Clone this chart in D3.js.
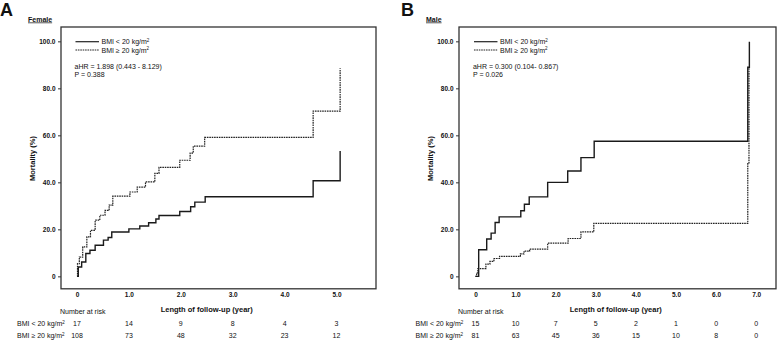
<!DOCTYPE html>
<html>
<head>
<meta charset="utf-8">
<script src="https://cdn.jsdelivr.net/npm/d3@7"></script>
<style>
	body { margin: 0; background: #fff; }
	text { font-family: "Liberation Sans", Arial, sans-serif; fill: #111; }
</style>
</head>
<body>
<div id="chart"></div>
<script>
// step curves: [time (year), cumulative mortality (%)]
const femaleLow = [[0, 0], [0.025, 4], [0.09, 6.1], [0.17, 9.7], [0.25, 11.1], [0.35, 13.2], [0.51, 15.4], [0.6, 16.5], [0.67, 18.9], [1.0, 20.2], [1.21, 21.4], [1.38, 22.8], [1.52, 24.4], [1.58, 25.9], [1.98, 27.6], [2.19, 29.6], [2.27, 31.6], [2.47, 33.9], [4.55, 40.7], [5.07, 53.3]];
const femaleHigh = [[0, 0], [0.01, 5.4], [0.045, 8.2], [0.11, 12.5], [0.19, 16.8], [0.26, 19.6], [0.35, 23.9], [0.44, 26], [0.54, 28.1], [0.62, 30.3], [0.69, 34.1], [1.02, 35.9], [1.16, 38], [1.32, 40.2], [1.5, 43.8], [1.58, 46.4], [1.98, 49.4], [2.18, 52.4], [2.24, 55.4], [2.46, 59.1], [4.55, 70.3], [5.07, 88.5]];
const maleLow = [[0, 0], [0.08, 11.3], [0.28, 15.9], [0.39, 18.4], [0.49, 22.9], [0.59, 25.3], [1.13, 27.9], [1.22, 30.7], [1.34, 33.8], [1.8, 40], [2.3, 44.8], [2.63, 50.5], [2.96, 57.5], [6.79, 89], [6.83, 99.8]];
const maleHigh = [[0, 0], [0.03, 1.5], [0.06, 3.3], [0.26, 5.2], [0.36, 6.4], [0.46, 7.6], [0.6, 8.5], [1.12, 9.6], [1.21, 10.7], [1.35, 11.6], [1.8, 14.1], [2.31, 16.1], [2.63, 18.9], [2.95, 22.5], [6.79, 48], [6.82, 89]];

const femaleXTicks = [0, 1, 2, 3, 4, 5];
const maleXTicks = [0, 1, 2, 3, 4, 5, 6, 7];
const yTicks = [0, 20, 40, 60, 80, 100];

const femaleRiskLow = [17, 14, 9, 8, 4, 3];
const femaleRiskHigh = [108, 73, 48, 32, 23, 12];
const maleRiskLow = [15, 10, 7, 5, 2, 1, 0, 0];
const maleRiskHigh = [81, 63, 45, 36, 15, 10, 8, 0];

const groupLabels = ["BMI < 20 kg/m", "BMI \u2265 20 kg/m"];
const femaleStats = ["aHR = 1.898 (0.443 - 8.129)", "P = 0.388"];
const maleStats = ["aHR = 0.300 (0.104- 0.867)", "P = 0.026"];

const svg = d3.select("#chart").append("svg")
	.attr("width", 778)
	.attr("height", 341);

const frameTop = 27, frameBottom = 288.8;

function drawPanel(cfg) {
	const g = svg.append("g");
	const x = d3.scaleLinear().domain(cfg.xDomain).range([cfg.left, cfg.right]);
	const y = d3.scaleLinear().domain([-5.3, 106.1]).range([frameBottom, frameTop]);

	// panel letter and sex title
	g.append("text").text(cfg.letter)
		.attr("x", cfg.letterX).attr("y", 15.5)
		.style("font-size", "18px").style("font-weight", "bold");
	g.append("text").text(cfg.title)
		.attr("x", cfg.titleX).attr("y", 21.5)
		.style("font-size", "7px").style("font-weight", "bold")
		.style("text-decoration", "underline");

	// frame
	g.append("rect")
		.attr("x", cfg.left).attr("y", frameTop)
		.attr("width", cfg.right - cfg.left).attr("height", frameBottom - frameTop)
		.attr("fill", "none").attr("stroke", "#333").attr("stroke-width", 1.3);

	// axes (x axis has labels only, no tick marks)
	const fmt = (d) => (d === 0 ? "0" : d3.format(".1f")(d));
	const yAxis = g.append("g")
		.attr("transform", `translate(${cfg.left},0)`)
		.call(d3.axisLeft(y).tickValues(yTicks).tickSize(3).tickPadding(2.5).tickFormat(fmt));
	const xAxis = g.append("g")
		.attr("transform", `translate(0,${frameBottom})`)
		.call(d3.axisBottom(x).tickValues(cfg.xTicks).tickSize(0).tickPadding(4).tickFormat(fmt));
	[yAxis, xAxis].forEach((a) => {
		a.select(".domain").remove();
		a.selectAll(".tick line").attr("stroke", "#333");
		a.selectAll(".tick text")
			.style("font-family", "Liberation Sans, Arial, sans-serif")
			.style("font-size", "6.5px").style("font-weight", "bold").attr("fill", "#111");
	});

	// axis titles
	g.append("text").text("Mortality (%)")
		.attr("transform", `translate(${cfg.left - 26.5},158.5) rotate(-90)`)
		.style("text-anchor", "middle")
		.style("font-size", "7.5px").style("font-weight", "bold");
	const lastTick = cfg.xTicks[cfg.xTicks.length - 1];
	g.append("text").text("Length of follow-up (year)")
		.attr("x", x(lastTick / 2)).attr("y", 311.5)
		.style("text-anchor", "middle")
		.style("font-size", "7.5px").style("font-weight", "bold");

	// curves
	const line = d3.line()
		.x((d) => x(d[0]))
		.y((d) => y(d[1]))
		.curve(d3.curveStepAfter);
	g.append("path").datum(cfg.high)
		.attr("d", line).attr("fill", "none")
		.attr("stroke", "#222").attr("stroke-width", 1.2)
		.attr("stroke-dasharray", "1.6,0.8");
	g.append("path").datum(cfg.low)
		.attr("d", line).attr("fill", "none")
		.attr("stroke", "#1a1a1a").attr("stroke-width", 1.4);

	// legend
	const lx = x(0) - 1.5;
	groupLabels.forEach((lab, i) => {
		const ly = 41.7 + i * 8.3;
		g.append("line")
			.attr("x1", lx).attr("x2", lx + 23.5)
			.attr("y1", ly).attr("y2", ly)
			.attr("stroke", "#222").attr("stroke-width", i === 0 ? 1.2 : 1)
			.attr("stroke-dasharray", i === 0 ? null : "1.6,0.8");
		const t = g.append("text")
			.attr("x", lx + 26).attr("y", ly + 2.6)
			.style("font-size", "7px");
		t.append("tspan").text(lab);
		t.append("tspan").text("2").attr("dy", -2.8).style("font-size", "4.5px");
	});
	cfg.stats.forEach((s, i) => {
		g.append("text").text(s)
			.attr("x", lx - 1).attr("y", 69.2 + i * 7.6)
			.style("font-size", "7px");
	});

	// number at risk table
	g.append("text").text("Number at risk")
		.attr("x", cfg.left - 1).attr("y", 313.8)
		.style("font-size", "7px");
	[cfg.riskLow, cfg.riskHigh].forEach((row, i) => {
		const ry = 326.3 + i * 12;
		const t = g.append("text")
			.attr("x", cfg.rowLabelX).attr("y", ry)
			.style("font-size", "7px");
		t.append("tspan").text(groupLabels[i]);
		t.append("tspan").text("2").attr("dy", -2.8).style("font-size", "4.5px");
		g.selectAll(null)
			.data(row)
			.join("text")
			.text((d) => d)
			.attr("x", (d, j) => x(cfg.xTicks[j]))
			.attr("y", ry)
			.style("text-anchor", "middle")
			.style("font-size", "7px");
	});
}

drawPanel({
	letter: "A", letterX: 0, title: "Female", titleX: 28,
	left: 61, right: 376, xDomain: [-0.308, 5.761], xTicks: femaleXTicks,
	low: femaleLow, high: femaleHigh, stats: femaleStats,
	riskLow: femaleRiskLow, riskHigh: femaleRiskHigh, rowLabelX: 17
});
drawPanel({
	letter: "B", letterX: 401, title: "Male", titleX: 426,
	left: 459, right: 776, xDomain: [-0.411, 7.494], xTicks: maleXTicks,
	low: maleLow, high: maleHigh, stats: maleStats,
	riskLow: maleRiskLow, riskHigh: maleRiskHigh, rowLabelX: 415.5
});
</script>
</body>
</html>
